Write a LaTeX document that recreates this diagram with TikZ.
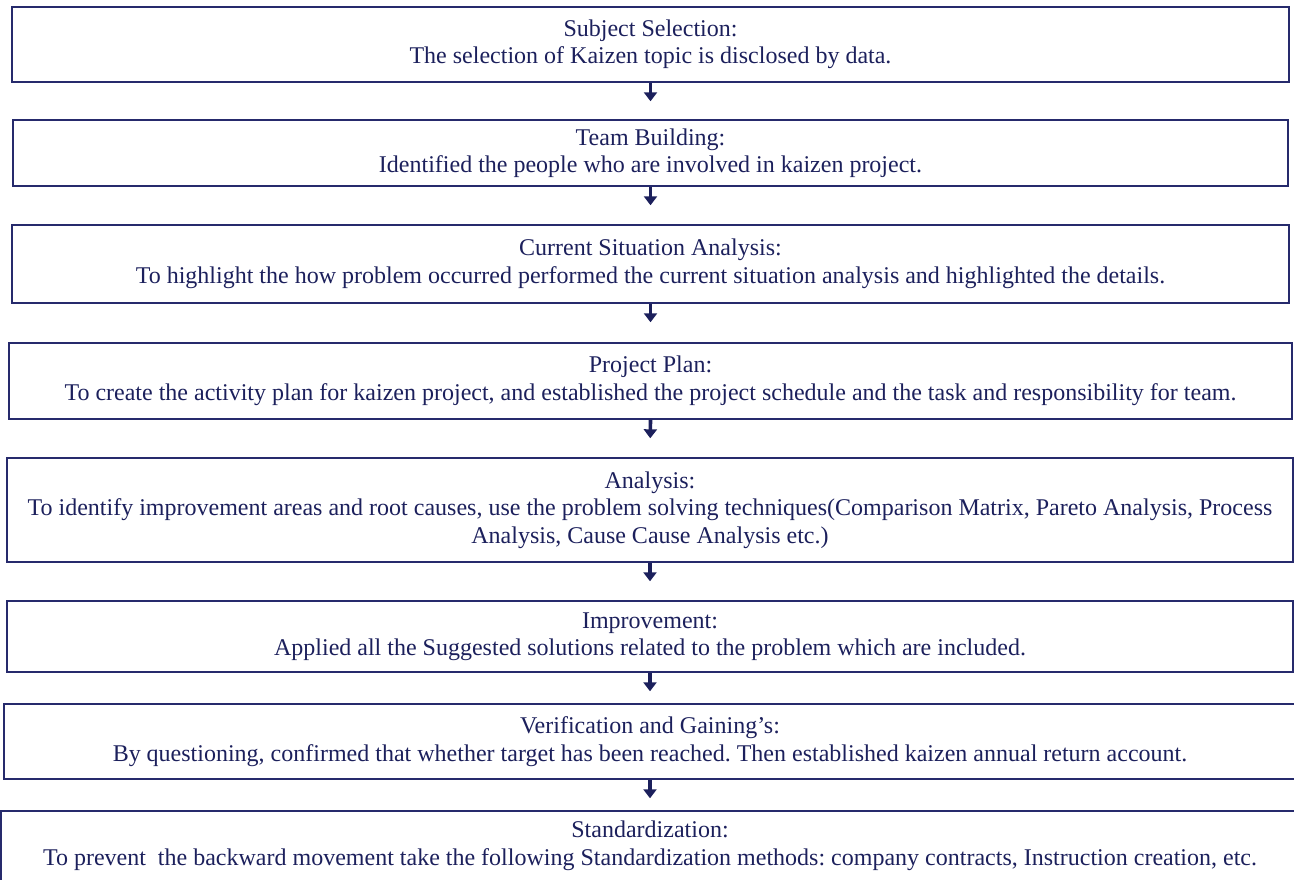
\documentclass[tikz,border=0pt]{standalone}
\usepackage{fontspec}
\setmainfont{Liberation Serif}
\usetikzlibrary{arrows.meta}
\definecolor{navy}{RGB}{38,42,108}
\definecolor{ink}{RGB}{28,32,92}
\frenchspacing
\tikzset{
  box/.style={draw=navy, line width=1.4pt, rectangle, inner sep=0pt, align=center,
    text=ink, font=\fontsize{24}{27.5}\selectfont\frenchspacing},
  arr/.style={draw=ink, line width=3.6pt, -{Triangle[width=13pt,length=9pt]}}
}
\begin{document}
\begin{tikzpicture}[x=1pt,y=-1pt]
\useasboundingbox (0,0) rectangle (1294,880);
\clip (0,0) rectangle (1294,880);
\node[box, minimum width=1277pt, minimum height=75pt] (b1) at (650.5,44.5)
  {Subject Selection:\\The selection of Kaizen topic is disclosed by data.};
\node[box, minimum width=1275pt, minimum height=66pt] (b2) at (650.5,153)
  {Team Building:\\Identified the people who are involved in kaizen project.};
\node[box, minimum width=1277pt, minimum height=78pt] (b3) at (650.5,264)
  {Current Situation Analysis:\\To highlight the how problem occurred performed the current situation analysis and highlighted the details.};
\node[box, minimum width=1283pt, minimum height=76pt] (b4) at (650.5,381)
  {Project Plan:\\To create the activity plan for kaizen project, and established the project schedule and the task and responsibility for team.};
\node[box, minimum width=1286pt, minimum height=104pt] (b5) at (650,510)
  {Analysis:\\To identify improvement areas and root causes, use the problem solving techniques(Comparison Matrix, Pareto Analysis, Process\\Analysis, Cause Cause Analysis etc.)};
\node[box, minimum width=1286pt, minimum height=71pt] (b6) at (650,636.5)
  {Improvement:\\Applied all the Suggested solutions related to the problem which are included.};
\node[box, minimum width=1292pt, minimum height=75pt] (b7) at (650,741.5)
  {Verification and Gaining's:\\By questioning, confirmed that whether target has been reached. Then established kaizen annual return account.};
\node[box, minimum width=1298pt, minimum height=70pt] (b8) at (650,846)
  {Standardization:\\To prevent\ \ the backward movement take the following Standardization methods: company contracts, Instruction creation, etc.};
\draw[arr, shorten >=18pt] (b1.south) -- (b2.north);
\draw[arr, shorten >=19pt] (b2.south) -- (b3.north);
\draw[arr, shorten >=20pt] (b3.south) -- (b4.north);
\draw[arr, shorten >=19pt] (b4.south) -- (b5.north);
\draw[arr, shorten >=19pt] (b5.south) -- (b6.north);
\draw[arr, shorten >=12pt] (b6.south) -- (b7.north);
\draw[arr, shorten >=12pt] (b7.south) -- (b8.north);
\end{tikzpicture}
\end{document}
